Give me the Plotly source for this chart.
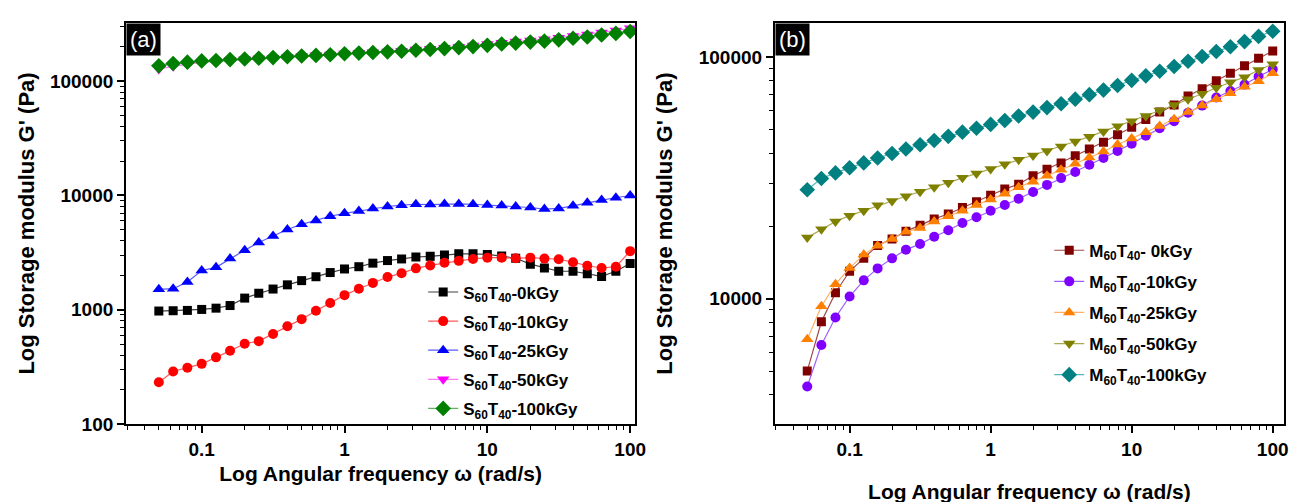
import plotly.graph_objects as go

# ---------------- data ----------------
freq = [0.0501, 0.0631, 0.0794, 0.1, 0.126, 0.158, 0.2, 0.251, 0.316, 0.398,
        0.501, 0.631, 0.794, 1.0, 1.26, 1.58, 2.0, 2.51, 3.16, 3.98,
        5.01, 6.31, 7.94, 10.0, 12.6, 15.8, 20.0, 25.1, 31.6, 39.8,
        50.1, 63.1, 79.4, 100.0]

# panel (a)
S_0kGy = [974, 980, 986, 1006, 1032, 1088, 1264, 1394, 1517, 1651, 1797, 1944, 2115, 2273,
          2379, 2556, 2693, 2782, 2893, 2931, 3008, 3087, 3087, 3048, 2950, 2818, 2506, 2317,
          2171, 2171, 2061, 1957, 2171, 2539]
S_10kGy = [232, 288, 311, 336, 383, 437, 504, 531, 613, 717, 827, 980, 1146, 1341, 1527,
           1717, 1931, 2088, 2302, 2442, 2573, 2676, 2782, 2856, 2856, 2818, 2856, 2801,
           2764, 2607, 2426, 2317, 2379, 3254]
S_25kGy = [1507, 1527, 1751, 2200, 2348, 2801, 3318, 3880, 4420, 5035, 5590, 6045, 6580,
           6979, 7303, 7694, 8000, 8213, 8375, 8320, 8430, 8430, 8375, 8266, 8158, 8000,
           7845, 7595, 7694, 8105, 8650, 9115, 9540, 9987]
S_50kGy = [128000, 135000, 141000, 146000, 149000, 153000, 155500, 158000, 160500, 163500,
           166000, 168500, 171000, 174500, 177000, 179500, 182000, 185000, 189000, 192000,
           196000, 200500, 205000, 211000, 217000, 222000, 227000, 233000, 240000, 248000,
           256000, 267000, 277000, 290000]
S_100kGy = [136500, 142800, 146700, 150500, 151500, 154500, 156500, 158600, 160700, 163800,
            166000, 168100, 170300, 173700, 176000, 178300, 180600, 183000, 186600, 189100,
            192800, 196600, 200600, 205800, 211300, 215400, 219700, 224000, 229900, 237500,
            243800, 253500, 261900, 272000]

# panel (b)
M_0kGy = [5029, 8035, 10600, 12996, 14700, 16630, 17690, 19050, 20130, 21410, 22420, 23850,
          25210, 26820, 28440, 29780, 32270, 34320, 36490, 39050, 41680, 44450, 47720, 51230,
          55140, 59200, 63380, 69080, 73920, 79870, 85720, 92020, 98790, 106000]
M_10kGy = [4337, 6435, 8364, 10220, 11920, 13360, 14700, 15970, 16840, 18070, 19220, 20580,
           21750, 23130, 24450, 25920, 27660, 29600, 31570, 33480, 35830, 38220, 40910, 43770,
           47280, 50760, 54320, 58860, 62990, 68030, 72340, 76950, 83120, 88950]
M_25kGy = [6802, 9315, 11490, 13400, 15250, 16580, 17690, 18930, 19650, 20890, 21950, 23130,
           24450, 25760, 27230, 28970, 30520, 32270, 34210, 36160, 38460, 40660, 43510, 45990,
           48910, 51860, 55330, 59200, 62990, 66980, 70830, 75330, 79380, 85720]
M_50kGy = [17910, 19400, 20890, 22080, 23130, 24370, 25370, 26570, 27750, 28970, 30240, 31670,
           32970, 34430, 36060, 37640, 39180, 40910, 42710, 44730, 46850, 49210, 51700, 54320,
           57060, 60140, 63380, 66980, 70600, 74640, 78650, 82610, 88420, 93460]
M_100kGy = [28260, 31470, 33180, 34840, 36490, 38220, 39910, 41680, 43380, 45150, 46990, 48910,
            50760, 52670, 54650, 57060, 59200, 61810, 64150, 66980, 69920, 73020, 76240, 80110,
            83640, 87330, 91460, 96070, 100600, 105400, 110400, 115900, 121800, 127950]

x_tickvals = [0.1, 1, 10, 100]
x_ticktext = ["0.1", "1", "10", "100"]
ya_tickvals = [100, 1000, 10000, 100000]
ya_ticktext = ["100", "1000", "10000", "100000"]
yb_tickvals = [10000, 100000]
yb_ticktext = ["10000", "100000"]

FONT = "Liberation Sans, Arial, sans-serif"

series_a = [
    ("S<sub>60</sub>T<sub>40</sub>-0kGy", S_0kGy, "square", 9, "#000000", "#404040"),
    ("S<sub>60</sub>T<sub>40</sub>-10kGy", S_10kGy, "circle", 10, "#FF0000", "#FF5A5A"),
    ("S<sub>60</sub>T<sub>40</sub>-25kGy", S_25kGy, "triangle-up", 11, "#0000FF", "#5A5AFF"),
    ("S<sub>60</sub>T<sub>40</sub>-50kGy", S_50kGy, "triangle-down", 11, "#FF00FF", "#FF7AFF"),
    ("S<sub>60</sub>T<sub>40</sub>-100kGy", S_100kGy, "diamond", 12, "#007F00", "#5FB35F"),
]
series_b = [
    ("M<sub>60</sub>T<sub>40</sub>- 0kGy", M_0kGy, "square", 9, "#800000", "#A04848"),
    ("M<sub>60</sub>T<sub>40</sub>-10kGy", M_10kGy, "circle", 10, "#7F00FF", "#A060FF"),
    ("M<sub>60</sub>T<sub>40</sub>-25kGy", M_25kGy, "triangle-up", 11, "#FF8000", "#FFB066"),
    ("M<sub>60</sub>T<sub>40</sub>-50kGy", M_50kGy, "triangle-down", 11, "#808000", "#AAAA50"),
    ("M<sub>60</sub>T<sub>40</sub>-100kGy", M_100kGy, "diamond", 12, "#008080", "#50B8B8"),
]

fig = go.Figure()
for i, (name, ys, sym, sz, mc, lc) in enumerate(series_a):
    fig.add_trace(go.Scatter(x=freq, y=ys, name=name, mode="lines+markers",
                             xaxis="x", yaxis="y", legend="legend", legendgroup="a%d" % i,
                             marker=dict(symbol=sym, size=sz, color=mc, line=dict(width=0)),
                             line=dict(color=lc, width=1.2)))
for i, (name, ys, sym, sz, mc, lc) in enumerate(series_b):
    fig.add_trace(go.Scatter(x=freq, y=ys, name=name, mode="lines+markers",
                             xaxis="x2", yaxis="y2", legend="legend2", legendgroup="b%d" % i,
                             marker=dict(symbol=sym, size=sz, color=mc, line=dict(width=0)),
                             line=dict(color=lc, width=1.2)))

L, R, T, B = 118, 10, 15, 74
W, H = 1297, 502
pw = W - L - R
ph = H - T - B

def px(xp):
    return (xp - L) / pw

def py(yp):
    return (H - B - yp) / ph

tickfont = dict(family=FONT, size=19, color="black", weight="bold")
titlefont = dict(family=FONT, size=21, color="black", weight="bold")
ytitlefont = dict(family=FONT, size=22, color="black", weight="bold")

def xaxis_cfg(dom, anchor, rng, standoff):
    return dict(domain=dom, anchor=anchor, type="log", range=rng,
                tickvals=x_tickvals, ticktext=x_ticktext, ticks="outside", ticklen=7,
                tickwidth=1.5, tickcolor="black", showline=True, linewidth=1.8,
                linecolor="black", mirror=True, showgrid=False, zeroline=False,
                tickfont=tickfont, ticklabeloverflow="allow",
                minor=dict(ticks="outside", ticklen=4, tickwidth=1.2, tickcolor="black",
                           dtick="D1", showgrid=False),
                title=dict(text="Log Angular frequency \u03c9 (rad/s)", font=titlefont,
                           standoff=standoff))

def yaxis_cfg(anchor, rng, tv, tt, standoff):
    return dict(domain=[0, 1], anchor=anchor, type="log", range=rng,
                tickvals=tv, ticktext=tt, ticks="outside", ticklen=7,
                tickwidth=1.5, tickcolor="black", showline=True, linewidth=1.8,
                linecolor="black", mirror=True, showgrid=False, zeroline=False,
                tickfont=tickfont,
                minor=dict(ticks="outside", ticklen=4, tickwidth=1.2, tickcolor="black",
                           dtick="D1", showgrid=False),
                title=dict(text="Log Storage modulus G' (Pa)", font=ytitlefont,
                           standoff=standoff))

fig.update_layout(
    width=W, height=H,
    margin=dict(l=L, r=R, t=T, b=B),
    paper_bgcolor="white", plot_bgcolor="white",
    font=dict(family=FONT, color="black"),
    showlegend=True,
    xaxis=xaxis_cfg([0, px(632)], "y", [-1.53, 2.035], 8),
    xaxis2=xaxis_cfg([px(773), 1], "y2", [-1.53, 2.08], 26),
    yaxis=yaxis_cfg("x", [2, 5.509], ya_tickvals, ya_ticktext, 9),
    yaxis2=yaxis_cfg("x2", [3.482, 5.141], yb_tickvals, yb_ticktext, 20),
    legend=dict(x=px(418), y=py(274), xanchor="left", yanchor="top",
                bgcolor="rgba(0,0,0,0)", borderwidth=0, tracegroupgap=4,
                font=dict(family=FONT, size=17, color="black", weight="bold")),
    legend2=dict(x=px(1050), y=py(231), xanchor="left", yanchor="top",
                 bgcolor="rgba(0,0,0,0)", borderwidth=0, tracegroupgap=6,
                 font=dict(family=FONT, size=17, color="black", weight="bold")),
    annotations=[
        dict(text="(a)", xref="x domain", yref="y domain", x=0, y=1,
             xanchor="left", yanchor="top", showarrow=False, bgcolor="black",
             font=dict(family=FONT, size=22, color="white"), borderpad=3),
        dict(text="(b)", xref="x2 domain", yref="y2 domain", x=0, y=1,
             xanchor="left", yanchor="top", showarrow=False, bgcolor="black",
             font=dict(family=FONT, size=22, color="white"), borderpad=3),
    ],
)

fig.write_html("out.html")
